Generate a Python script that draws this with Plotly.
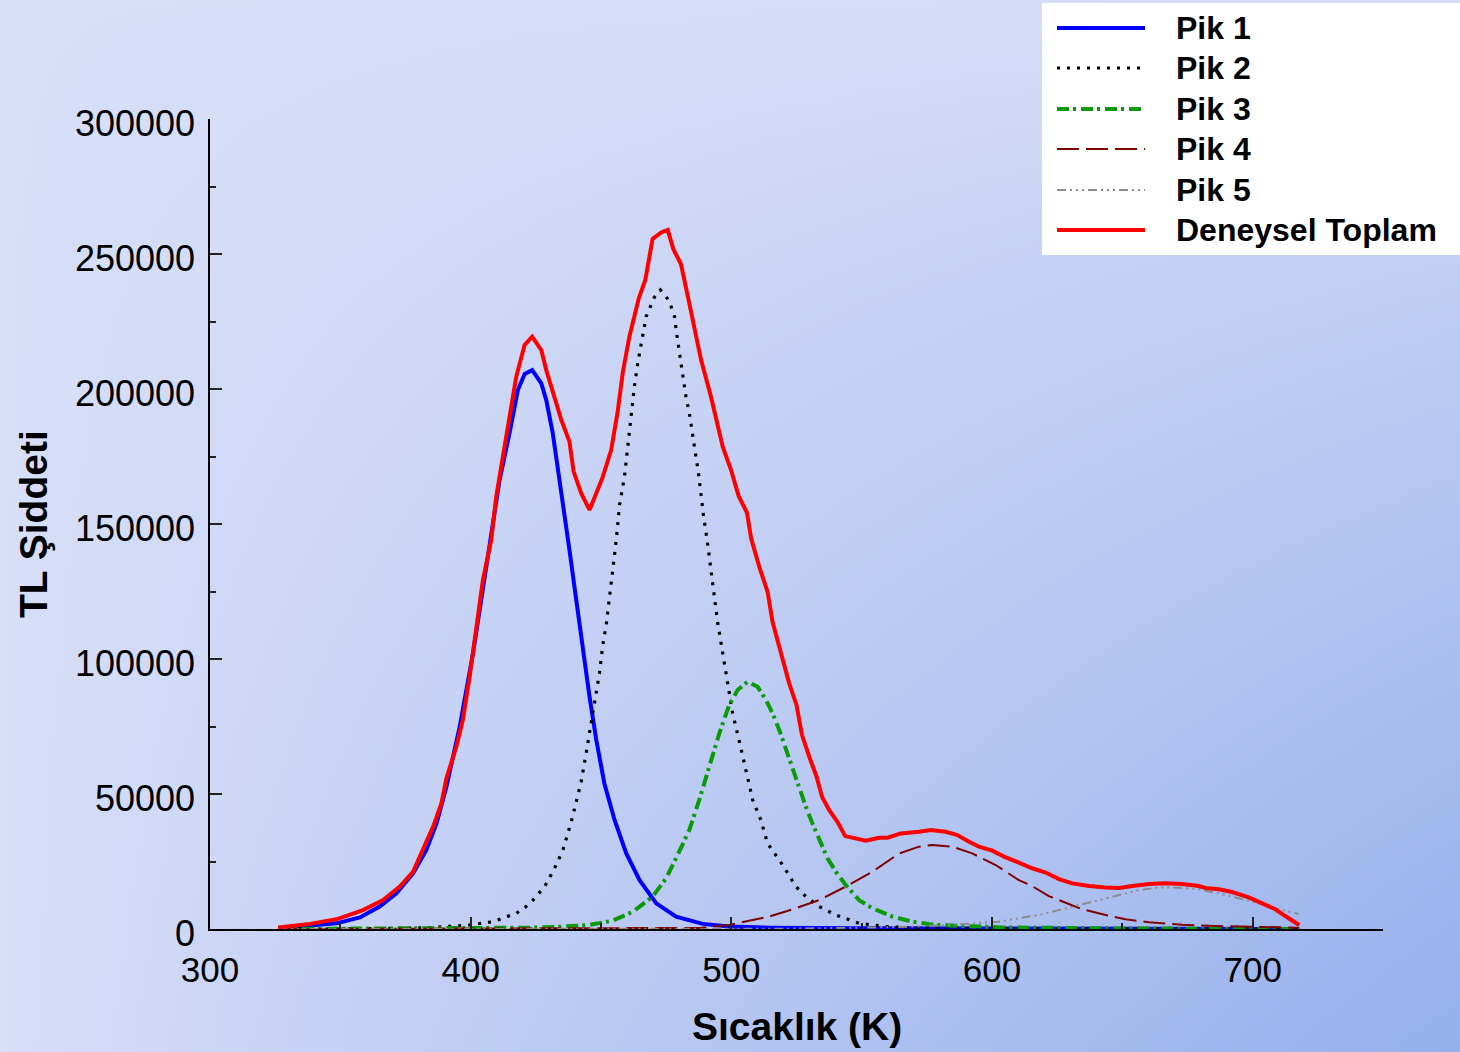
import base64
import struct
import zlib
import plotly.graph_objects as go

# ---------------- data (temperature K, TL intensity) ----------------
T_toplam = [326.2, 338.3, 348.5, 358.7, 366.4, 372.8, 377.9, 381.7, 385.6, 388.8, 390.7, 394.5, 397.0, 399.6,
            402.2, 404.7, 407.9, 409.8, 417.5, 420.7, 423.6, 427.1, 429.0, 431.5, 434.8, 437.9, 439.5, 442.4,
            445.6, 450.5, 453.9, 456.4, 458.4, 460.9, 464.5, 467.0, 469.8, 473.1, 475.6, 477.8, 480.7, 483.6,
            486.2, 488.4, 492.2, 496.7, 499.9, 502.8, 506.0, 507.6, 510.7, 513.9, 515.8, 519.0, 522.2, 525.0,
            527.1, 529.9, 532.7, 534.8, 537.5, 540.7, 543.7, 551.6, 556.7, 559.9, 565.0, 572.0, 576.5, 582.3,
            586.7, 591.2, 595.0, 600.1, 604.6, 610.3, 615.4, 620.6, 625.7, 630.8, 637.2, 643.6, 648.7, 653.8,
            660.2, 666.6, 672.9, 679.3, 681.9, 687.0, 692.1, 698.5, 703.6, 708.7, 712.5, 716.4, 717.9]
I_toplam = [600, 1900, 3600, 7000, 10700, 15700, 21200, 29300, 37900, 46600, 55800, 67500, 77400, 93400,
            110700, 129300, 144100, 160100, 204600, 216300, 219400, 214400, 207000, 199000, 188500, 180500,
            169400, 161400, 155200, 166900, 177400, 191600, 206400, 219400, 233600, 240400, 255600, 258000,
            258900, 251700, 246200, 233000, 220000, 210700, 197100, 178600, 170000, 160400, 154200, 144700,
            134200, 124900, 113800, 102100, 91000, 83000, 71900, 63800, 56400, 49000, 44100, 39700, 34400,
            32700, 33800, 33800, 35400, 36000, 36700, 36000, 34800, 32300, 30500, 29000, 26800, 24600, 22500,
            20900, 18500, 16900, 15900, 15400, 15200, 15900, 16700, 16900, 16700, 15900, 15200, 14700, 13700,
            11700, 9300, 7300, 4800, 2700, 1500]

T_pik1 = [326.2, 338.3, 348.5, 357.5, 365.1, 371.5, 377.9, 383.0, 386.9, 390.7, 395.8, 400.9, 404.7, 407.3,
          411.1, 414.9, 418.1, 420.7, 423.6, 427.1, 429.0, 431.5, 434.1, 435.4, 437.9, 440.5, 443.0, 445.6,
          448.2, 451.3, 455.2, 459.7, 464.8, 471.2, 478.8, 489.0, 499.2, 514.6, 550.0, 650.0, 717.9]
I_pik1 = [300, 1100, 2100, 4300, 8300, 13200, 20600, 29300, 39100, 52700, 74900, 102100, 126800, 144100,
          166300, 183600, 199600, 205600, 207000, 202100, 195900, 183600, 166300, 158900, 140400, 121900,
          103300, 86000, 70000, 53900, 40400, 28000, 18100, 9500, 4600, 1900, 900, 500, 250, 50, 0]

T_pik2 = [326.2, 360.0, 385.0, 399.6, 408.5, 417.5, 421.3, 423.9, 428.4, 432.2, 435.4, 438.6, 440.5, 442.4,
          444.3, 446.2, 448.2, 449.4, 450.7, 452.0, 452.9, 453.9, 455.2, 456.1, 457.1, 459.0, 460.3, 461.6,
          462.8, 464.1, 465.8, 467.3, 469.2, 470.5, 472.8, 475.4, 476.9, 478.2, 479.2, 480.3, 481.3, 482.6,
          483.9, 485.2, 486.5, 487.4, 488.4, 489.3, 490.9, 492.8, 494.8, 496.7, 498.6, 500.5, 503.1, 505.6,
          508.2, 511.3, 513.9, 519.7, 524.8, 528.6, 533.7, 540.1, 549.0, 559.3, 572.0, 620.0, 717.9]
I_pik2 = [0, 100, 500, 1500, 2700, 5800, 8300, 10700, 15700, 22500, 29300, 39700, 47100, 54600, 65100,
          76200, 87300, 94700, 105200, 112600, 120000, 127400, 138500, 146600, 157000, 167500, 178600,
          191000, 200900, 209500, 219400, 226800, 231100, 234000, 236700, 233600, 230500, 226800, 219400,
          212200, 205800, 197100, 191000, 183000, 175600, 168800, 160700, 153300, 142800, 128000, 113200,
          102100, 91000, 79900, 69400, 58300, 47800, 40400, 31700, 23700, 15700, 12000, 8300, 5200, 2100,
          900, 300, 50, 0]

T_pik3 = [326.2, 400.0, 423.9, 435.4, 445.6, 454.5, 462.2, 469.8, 475.0, 479.4, 483.9, 487.7, 491.6, 495.4,
          499.2, 502.4, 506.2, 510.1, 513.3, 515.8, 518.4, 521.0, 523.5, 526.1, 528.6, 531.1, 533.7, 536.9,
          540.1, 543.9, 549.0, 554.1, 561.8, 569.5, 578.4, 591.2, 603.8, 650.0, 717.9]
I_pik3 = [0, 150, 500, 900, 1500, 3100, 6400, 12000, 18800, 27400, 36700, 47800, 60100, 72500, 83000,
          88500, 91600, 89700, 84800, 79900, 73700, 66300, 58900, 51500, 45300, 39100, 33000, 26200, 21200,
          16300, 10700, 7700, 4600, 2700, 1500, 900, 600, 200, 0]

T_pik4 = [326.2, 450.0, 487.7, 499.2, 514.6, 524.8, 533.7, 543.9, 554.1, 564.4, 572.0, 577.1, 584.8, 592.4,
          601.4, 610.3, 615.4, 621.8, 628.2, 634.6, 643.6, 651.2, 660.2, 672.9, 685.7, 704.9, 717.6]
I_pik4 = [0, 100, 400, 1500, 4600, 7700, 10700, 15700, 21200, 28000, 30500, 31100, 30500, 28000, 23700,
          18100, 15900, 12200, 9700, 7300, 5200, 3600, 2500, 1600, 1100, 700, 500]

T_pik5 = [326.2, 520.0, 564.4, 583.5, 602.7, 610.3, 618.0, 628.2, 638.4, 647.4, 656.3, 664.0, 671.6, 679.3,
          687.0, 694.6, 702.3, 710.0, 717.6]
I_pik5 = [0, 100, 700, 1500, 2700, 4000, 5200, 7600, 10100, 12200, 14400, 15400, 15300, 14700, 13200,
          11400, 9500, 7300, 5600]

series_names = ["Pik 1", "Pik 2", "Pik 3", "Pik 4", "Pik 5", "Deneysel Toplam"]
x_ticks = [300, 400, 500, 600, 700]
y_ticks = [0, 50000, 100000, 150000, 200000, 250000, 300000]

# ---------------- styles ----------------
styles = [
    dict(color="#0000ff", width=4, dash="solid"),
    dict(color="#000000", width=3.2, dash="3px,7px"),
    dict(color="#0a9a0a", width=4, dash="12px,4px,3px,5px"),
    dict(color="#800000", width=2, dash="22px,7px"),
    dict(color="#8c8c8c", width=2, dash="9px,4px,2px,4px,2px,4px,2px,4px"),
    dict(color="#ff0000", width=4, dash="solid"),
]
series = [(T_pik1, I_pik1), (T_pik2, I_pik2), (T_pik3, I_pik3), (T_pik4, I_pik4), (T_pik5, I_pik5),
          (T_toplam, I_toplam)]

# ---------------- canvas geometry ----------------
W, H = 1460, 1052
ML, MR, MT, MB = 210, 77, 119, 123
PW, PH = W - ML - MR, H - MT - MB


def px_x(px):
    return (px - ML) / PW


def px_y(py):
    return (H - MB - py) / PH


# ---------------- gradient background PNG ----------------
def gradient_png(w, h):
    light = (216, 223, 247)
    dark = (150, 176, 236)
    rows = []
    for j in range(h):
        v = j / (h - 1)
        row = bytearray([0])
        for i in range(w):
            u = i / (w - 1)
            t = 0.06 * u + 0.94 * (u * v) ** 0.85
            t = min(1.0, t)
            row += bytes(int(round(light[k] + (dark[k] - light[k]) * t)) for k in range(3))
        rows.append(bytes(row))
    raw = b"".join(rows)

    def chunk(typ, data):
        return (struct.pack(">I", len(data)) + typ + data
                + struct.pack(">I", zlib.crc32(typ + data) & 0xffffffff))

    png = b"\x89PNG\r\n\x1a\n"
    png += chunk(b"IHDR", struct.pack(">IIBBBBB", w, h, 8, 2, 0, 0, 0))
    png += chunk(b"IDAT", zlib.compress(raw, 9))
    png += chunk(b"IEND", b"")
    return "data:image/png;base64," + base64.b64encode(png).decode()


bg = gradient_png(292, 210)

fig = go.Figure()
for (xs, ys), name, st in zip(series, series_names, styles):
    fig.add_trace(go.Scatter(x=xs, y=ys, mode="lines", name=name, showlegend=False,
                             line=dict(color=st["color"], width=st["width"], dash=st["dash"]),
                             hoverinfo="x+y+name"))

FONT = "Liberation Sans, Arial, sans-serif"

# ---------------- manual legend ----------------
shapes = [dict(type="rect", xref="paper", yref="paper", x0=px_x(1042), x1=px_x(1462), y0=px_y(255),
               y1=px_y(3), fillcolor="white", line=dict(width=0), layer="above")]
annotations = []
row_y = [28, 68, 109, 149, 190, 230]
for name, st, ry in zip(series_names, styles, row_y):
    shapes.append(dict(type="line", xref="paper", yref="paper", x0=px_x(1057), x1=px_x(1145),
                       y0=px_y(ry), y1=px_y(ry), layer="above",
                       line=dict(color=st["color"], width=st["width"], dash=st["dash"])))
    annotations.append(dict(xref="paper", yref="paper", x=px_x(1174), y=px_y(ry), text=name,
                            showarrow=False, xanchor="left", yanchor="middle",
                            font=dict(family=FONT, size=32, color="black", weight="bold")))

# axis titles
annotations.append(dict(xref="paper", yref="paper", x=0.5, y=px_y(1026), text="Sıcaklık (K)",
                        showarrow=False, xanchor="center", yanchor="middle",
                        font=dict(family=FONT, size=39, color="black", weight="bold")))
annotations.append(dict(xref="paper", yref="paper", x=px_x(33), y=0.5, text="TL Şiddeti",
                        showarrow=False, xanchor="center", yanchor="middle", textangle=-90,
                        font=dict(family=FONT, size=39, color="black", weight="bold")))

fig.update_layout(
    width=W, height=H,
    margin=dict(l=ML, r=MR, t=MT, b=MB, pad=0),
    paper_bgcolor="#c4d0f2",
    plot_bgcolor="rgba(0,0,0,0)",
    showlegend=False,
    font=dict(family=FONT, color="black"),
    shapes=shapes,
    annotations=annotations,
    images=[dict(source=bg, xref="paper", yref="paper", x=-ML / PW, y=1 + MT / PH,
                 sizex=W / PW, sizey=H / PH, xanchor="left", yanchor="top",
                 sizing="stretch", layer="below", opacity=1)],
    xaxis=dict(range=[300, 750], tickmode="array", tickvals=x_ticks, ticktext=[str(v) for v in x_ticks],
               showgrid=False, zeroline=False, showline=True, linecolor="black", linewidth=1.5,
               ticks="inside", ticklen=12, tickwidth=1.5, tickcolor="#222",
               minor=dict(ticks="inside", ticklen=6, tickwidth=1.5, tickcolor="#222", dtick=50,
                          tick0=300, showgrid=False),
               tickfont=dict(family=FONT, size=35, color="black"),
               ticklabelstandoff=9, automargin=False, fixedrange=True),
    yaxis=dict(range=[0, 300000], tickmode="array", tickvals=y_ticks, ticktext=[str(v) for v in y_ticks],
               showgrid=False, zeroline=False, showline=True, linecolor="black", linewidth=1.5,
               ticks="inside", ticklen=12, tickwidth=1.5, tickcolor="#222",
               minor=dict(ticks="inside", ticklen=6, tickwidth=1.5, tickcolor="#222", dtick=25000,
                          tick0=0, showgrid=False),
               tickfont=dict(family=FONT, size=36, color="black"),
               ticklabelstandoff=6, ticklabelshift=4, automargin=False, fixedrange=True),
)

fig.write_html("out.html", config=dict(displayModeBar=False))

# remove the default page margin so the figure sits at the window's top-left corner
with open("out.html", "r", encoding="utf-8") as f:
    html = f.read()
html = html.replace("<body>", '<body style="margin:0;padding:0;overflow:hidden">', 1)
html = html.replace("<head>", "<head><style>html,body{margin:0;padding:0;}</style>", 1)
with open("out.html", "w", encoding="utf-8") as f:
    f.write(html)
